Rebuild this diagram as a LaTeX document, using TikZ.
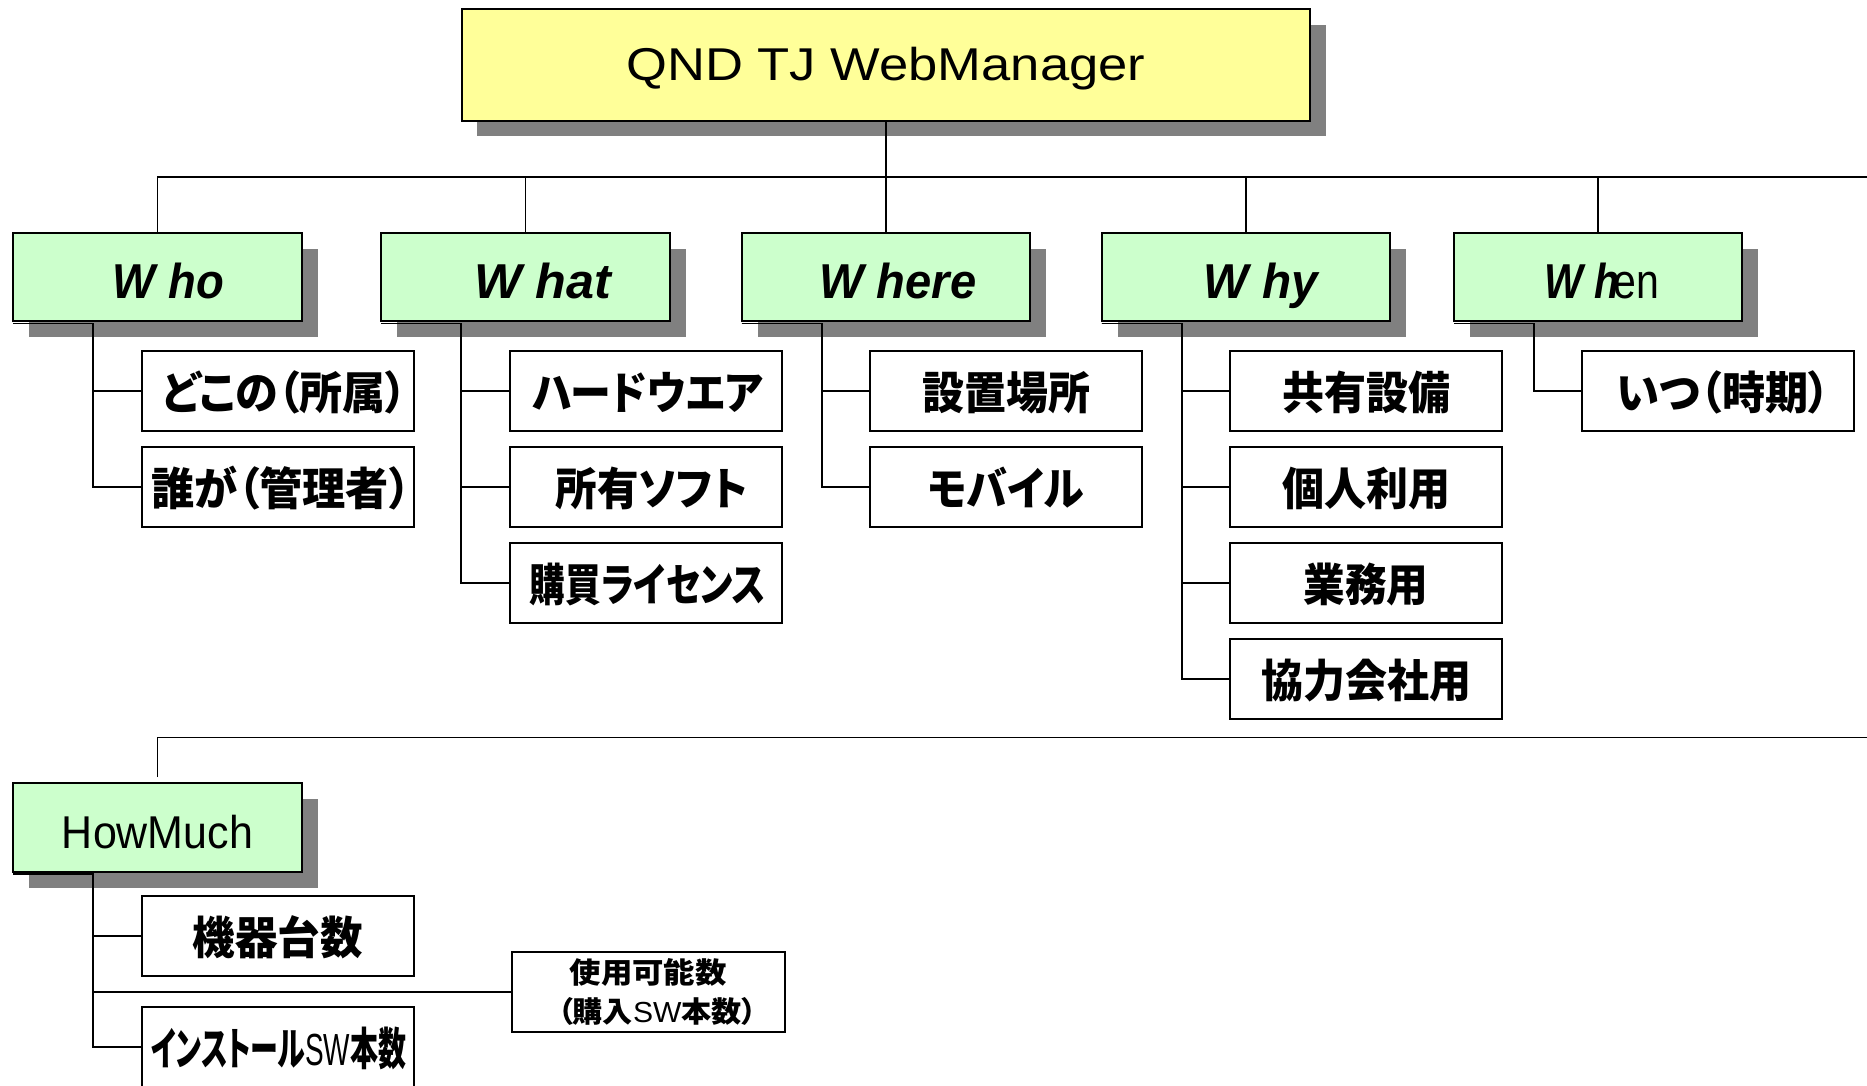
\documentclass[tikz,border=0pt]{standalone}
\usepackage{fontspec}
\usepackage{graphicx}
\setmainfont{Liberation Sans}
\newfontfamily\jp{Noto Sans CJK JP}[RawFeature=+palt]
\usetikzlibrary{shadows}
\definecolor{titlefill}{HTML}{FFFF99}
\definecolor{headfill}{HTML}{CCFFCC}
\definecolor{shadowgray}{HTML}{808080}
\newcommand\fw[2]{\resizebox{#1pt}{\height}{#2}}
\newcommand\headtxt[2]{{\bfseries\itshape\fontsize{49}{55}\selectfont\fw{#1}{#2}}}
\newcommand\jt[2]{{\jp\bfseries\fontsize{45}{50}\selectfont\fw{#1}{#2}}}
\newcommand\lat[1]{{\rmfamily\mdseries #1}}
\begin{document}
\begin{tikzpicture}[x=1pt,y=-1pt,
  box/.style={draw=black,line width=2pt,inner sep=0pt,outer sep=0pt,anchor=center},
  titlebox/.style={box,fill=titlefill,minimum width=848.3pt,minimum height=111.7pt,
      text height=30.3pt,text depth=0pt,
      drop shadow={shadow xshift=15.5pt,shadow yshift=-15.5pt,fill=shadowgray,opacity=1,draw=none}},
  headbox/.style={box,fill=headfill,minimum width=288.4pt,minimum height=88.3pt,
      text height=42.3pt,text depth=0pt,
      drop shadow={shadow xshift=16pt,shadow yshift=-16pt,fill=shadowgray,opacity=1,draw=none}},
  leafbase/.style={box,fill=white,minimum width=272pt,minimum height=79.5pt},
  leafbox/.style={leafbase,text height=37.5pt,text depth=0pt},
  conn/.style={draw=black,line width=1.7pt}]
\useasboundingbox (0,0) rectangle (1867,1085);

% top node
\node[titlebox] (title) at (885.85,64.85) {{\fontsize{46}{50}\selectfont\fw{519}{QND TJ WebManager}}};

% first level
\node[headbox] (who)   at (157.5,276.85)  {\hspace{22pt}\headtxt{111}{W ho}};
\node[headbox] (what)  at (525.5,276.85)  {\hspace{34pt}\headtxt{137}{W hat}};
\node[headbox] (where) at (885.9,276.85)  {\hspace{24pt}\headtxt{157}{W here}};
\node[headbox] (why)   at (1245.9,276.85) {\hspace{30pt}\headtxt{114}{W hy}};
\node[headbox] (when)  at (1598.2,276.85) {\hspace{7pt}\headtxt{115}{W h\kern-7pt\mdseries\upshape en}};

% leaves
\node[leafbox] (who1) at (277.7,390.75) {\hspace{14pt}\jt{245}{どこの（所属）}};
\node[leafbox] (who2) at (277.7,486.75) {\hspace{7pt}\jt{259}{誰が（管理者）}};

\node[leafbox] (what1) at (645.7,390.75) {\hspace{4pt}\jt{231}{ハードウエア}};
\node[leafbox] (what2) at (645.7,486.75) {\hspace{12pt}\jt{192}{所有ソフト}};
\node[leafbox] (what3) at (645.7,582.75) {\hspace{4pt}\jt{236}{購買ライセンス}};

\node[leafbox] (where1) at (1006.1,390.75) {\jt{168}{設置場所}};
\node[leafbox] (where2) at (1006.1,486.75) {\jt{156}{モバイル}};

\node[leafbox] (why1) at (1366.1,390.75) {\jt{168}{共有設備}};
\node[leafbox] (why2) at (1366.1,486.75) {\jt{168}{個人利用}};
\node[leafbox] (why3) at (1366.1,582.75) {\jt{125}{業務用}};
\node[leafbox] (why4) at (1366.1,678.75) {\jt{210}{協力会社用}};

\node[leafbox] (when1) at (1718.4,390.75) {\hspace{10pt}\jt{213}{いつ（時期）}};

% HowMuch
\node[headbox,text height=41.2pt] (hm) at (157.5,827.6) {{\fontsize{46}{50}\selectfont\fw{191}{HowMuch}}};
\node[leafbox] (hm1) at (277.7,935.75) {\jt{170}{機器台数}};
\node[leafbox] (hm3) at (277.7,1047.15) {\hspace{2pt}\jt{255}{インストール\lat{SW}本数}};
\node[leafbase,minimum width=272.5pt,minimum height=79.6pt,align=center,
      font={\jp\bfseries\fontsize{29}{39.6}\selectfont}] (hm2) at (648.25,991.8)
      {\fw{157}{使用可能数}\\\hspace{18pt}\fw{199}{（購入\lat{SW}本数）}};

% connectors
\coordinate (busR) at (1867,176.7);
\coordinate (bus2R) at (1867,737.5);
\coordinate (hmtop) at (157.5,777);
\draw[conn] (title.south) -- (title.south |- where.north);
\draw[conn] (who.north) |- (busR);
\draw[conn] (what.north) -- (what.north |- busR);
\draw[conn] (why.north) -- (why.north |- busR);
\draw[conn] (when.north) -- (when.north |- busR);
\draw[conn] (hmtop) |- (bus2R);

\foreach \p/\c in {who/who1,who/who2,what/what1,what/what2,what/what3,
                   where/where1,where/where2,why/why1,why/why2,why/why3,why/why4,
                   when/when1,hm/hm1,hm/hm2,hm/hm3}{
  \draw[conn] ([yshift=-2.5pt]\p.south west) -- ++(80,0) |- (\c.west);
}
\end{tikzpicture}
\end{document}
